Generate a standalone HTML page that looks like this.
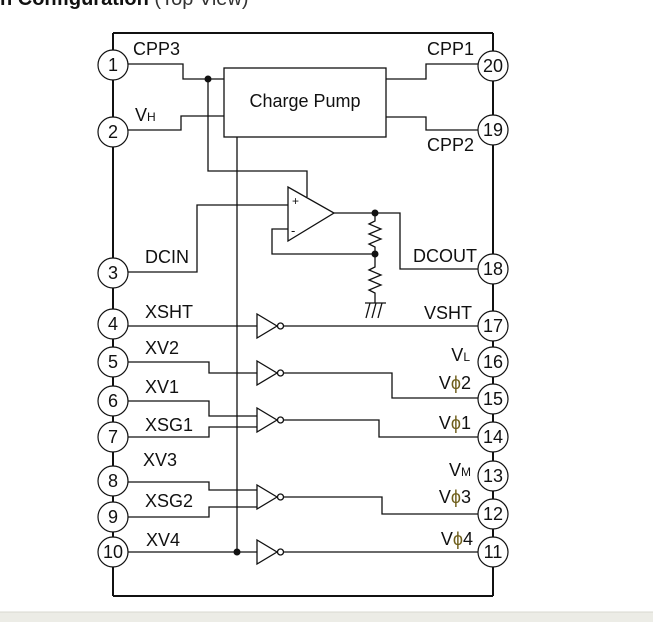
<!DOCTYPE html>
<html><head><meta charset="utf-8"><style>
html,body{margin:0;padding:0;background:#fff;width:653px;height:622px;overflow:hidden}
svg{display:block}
text{font-family:"Liberation Sans",Arial,sans-serif;fill:#111}
</style></head><body>
<svg width="653" height="622" viewBox="0 0 653 622" xmlns="http://www.w3.org/2000/svg">
<rect x="0" y="612" width="653" height="10" fill="#ecece6"/>
<line x1="0" y1="612" x2="653" y2="612" stroke="#d8d8d0" stroke-width="1"/>
<text x="0" y="5" font-size="20" font-weight="bold" style="fill:#111">n Configuration <tspan font-weight="normal" style="fill:#333">(Top View)</tspan></text>

<g fill="none" stroke="#111" stroke-width="1.3">
<line x1="113" y1="33" x2="493" y2="33" stroke-width="2"/>
<line x1="113" y1="33" x2="113" y2="596" stroke-width="2"/>
<line x1="493" y1="33" x2="493" y2="596" stroke-width="2"/>
<line x1="113" y1="596" x2="493" y2="596" stroke-width="2"/>

<rect x="224" y="68" width="162" height="69" fill="#fff"/>
<polyline points="128,64 183,64 183,79 224,79"/>
<polyline points="128,130 181,130 181,116 224,116"/>
<polyline points="386,79 426,79 426,64 478,64"/>
<polyline points="386,117 426,117 426,130 478,130"/>
<polyline points="208,79 208,171 307,171 307,197"/>
<line x1="237" y1="137" x2="237" y2="552"/>

<polygon points="288,187 288,241 334,213" fill="#fff"/>
<polyline points="128,272 197,272 197,205 288,205"/>
<polyline points="288,229 272,229 272,254 375,254"/>
<polyline points="334,213 400,213 400,269 478,269"/>
<polyline points="375,213 375,221 369,224 381,229 369,234 381,239 369,244 375,247 375,254"/>
<polyline points="375,254 375,267 369,270 381,275 369,280 381,285 369,290 375,293 375,303"/>
<line x1="365" y1="303" x2="386" y2="303"/>
<line x1="370" y1="303" x2="366" y2="318"/>
<line x1="376" y1="303" x2="372" y2="318"/>
<line x1="382" y1="303" x2="378" y2="318"/>

<line x1="128" y1="326" x2="257" y2="326"/>
<line x1="284" y1="326" x2="478" y2="326"/>
<polyline points="128,362 209,362 209,373 257,373"/>
<polyline points="284,373 392,373 392,398 478,398"/>
<polyline points="128,401 209,401 209,416 257,416"/>
<polyline points="128,437 209,437 209,427 257,427"/>
<polyline points="284,420 379,420 379,437 478,437"/>
<polyline points="128,482 209,482 209,490 257,490"/>
<polyline points="128,517 209,517 209,507 257,507"/>
<polyline points="284,497 382,497 382,514 478,514"/>
<line x1="128" y1="552" x2="257" y2="552"/>
<line x1="284" y1="552" x2="478" y2="552"/>

<g fill="#fff">
<polygon points="257,314 257,338 277,326"/><circle cx="280.5" cy="326" r="3"/>
<polygon points="257,361 257,385 277,373"/><circle cx="280.5" cy="373" r="3"/>
<polygon points="257,408 257,432 277,420"/><circle cx="280.5" cy="420" r="3"/>
<polygon points="257,485 257,509 277,497"/><circle cx="280.5" cy="497" r="3"/>
<polygon points="257,540 257,564 277,552"/><circle cx="280.5" cy="552" r="3"/>
</g>

<g fill="#fff" stroke-width="1.2">
<circle cx="113" cy="65" r="15"/><circle cx="113" cy="132" r="15"/><circle cx="113" cy="273" r="15"/>
<circle cx="113" cy="324" r="15"/><circle cx="113" cy="362" r="15"/><circle cx="113" cy="401" r="15"/>
<circle cx="113" cy="437" r="15"/><circle cx="113" cy="481" r="15"/><circle cx="113" cy="517" r="15"/>
<circle cx="113" cy="552" r="15"/>
<circle cx="493" cy="66" r="15"/><circle cx="493" cy="130" r="15"/><circle cx="493" cy="269" r="15"/>
<circle cx="493" cy="326" r="15"/><circle cx="493" cy="362" r="15"/><circle cx="493" cy="399" r="15"/>
<circle cx="493" cy="437" r="15"/><circle cx="493" cy="476" r="15"/><circle cx="493" cy="514" r="15"/>
<circle cx="493" cy="552" r="15"/>
</g>
</g>
<g fill="#111">
<circle cx="208" cy="79" r="3.5"/><circle cx="375" cy="213" r="3.5"/><circle cx="375" cy="254" r="3.5"/><circle cx="237" cy="552" r="3.5"/>
</g>
<text x="292" y="205" font-size="12">+</text>
<text x="291" y="235" font-size="13">-</text>
<text x="305" y="107" font-size="18" text-anchor="middle">Charge Pump</text>

<g font-size="18" text-anchor="middle">
<text x="113" y="71">1</text><text x="113" y="138">2</text><text x="113" y="279">3</text>
<text x="113" y="330">4</text><text x="113" y="368">5</text><text x="113" y="407">6</text>
<text x="113" y="443">7</text><text x="113" y="487">8</text><text x="113" y="523">9</text>
<text x="113" y="558">10</text>
<text x="493" y="72">20</text><text x="493" y="136">19</text><text x="493" y="275">18</text>
<text x="493" y="332">17</text><text x="493" y="368">16</text><text x="493" y="405">15</text>
<text x="493" y="443">14</text><text x="493" y="482">13</text><text x="493" y="520">12</text>
<text x="493" y="558">11</text>
</g>
<g font-size="18">
<text x="133" y="55">CPP3</text>
<text x="135" y="121">V<tspan font-size="12">H</tspan></text>
<text x="145" y="263">DCIN</text>
<text x="145" y="318">XSHT</text>
<text x="145" y="354">XV2</text>
<text x="145" y="393">XV1</text>
<text x="145" y="431">XSG1</text>
<text x="143" y="466">XV3</text>
<text x="145" y="507">XSG2</text>
<text x="146" y="546">XV4</text>
</g>
<g font-size="18" text-anchor="end">
<text x="474" y="55">CPP1</text>
<text x="474" y="151">CPP2</text>
<text x="477" y="262">DCOUT</text>
<text x="472" y="319">VSHT</text>
<text x="470" y="361">V<tspan font-size="12">L</tspan></text>
<text x="471" y="389">V<tspan style="fill:#6e5e1a">ϕ</tspan>2</text>
<text x="471" y="429">V<tspan style="fill:#6e5e1a">ϕ</tspan>1</text>
<text x="471" y="476">V<tspan font-size="12">M</tspan></text>
<text x="471" y="503">V<tspan style="fill:#6e5e1a">ϕ</tspan>3</text>
<text x="473" y="545">V<tspan style="fill:#6e5e1a">ϕ</tspan>4</text>
</g>
</svg>
</body></html>
